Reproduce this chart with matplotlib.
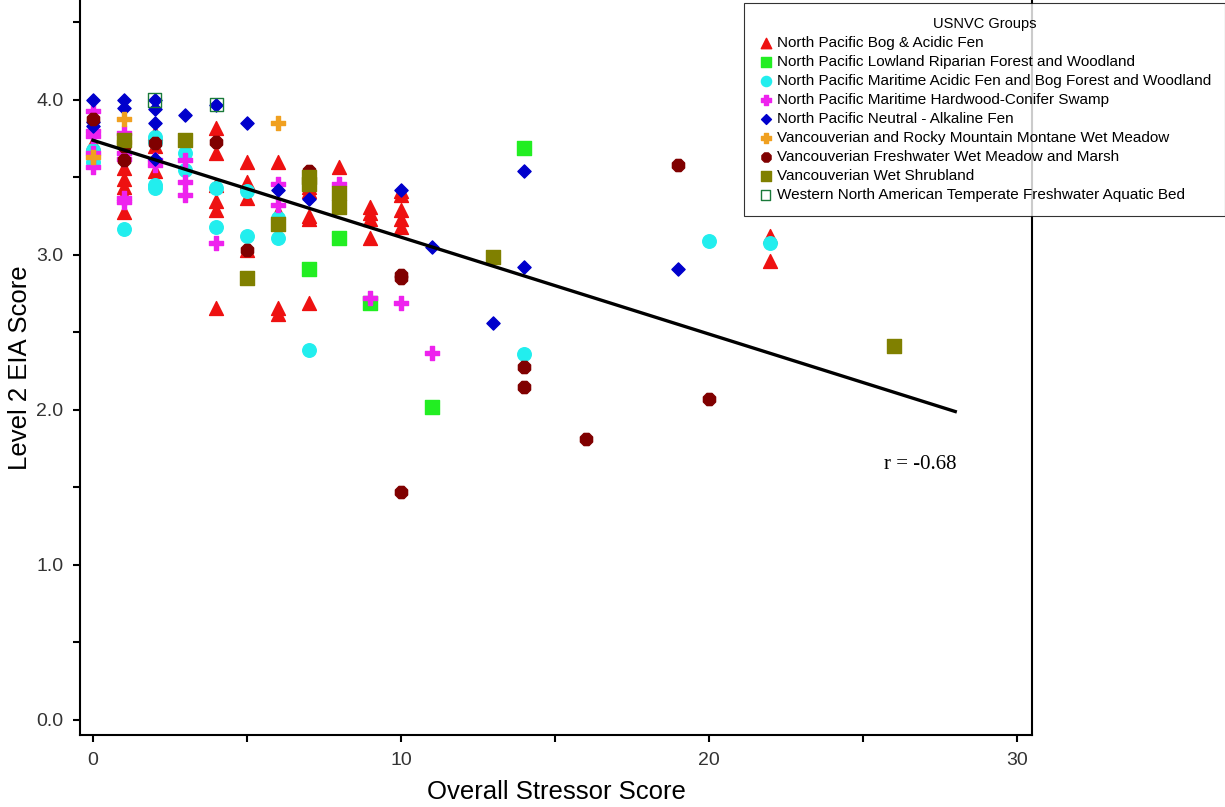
import matplotlib
matplotlib.use('Agg')
from matplotlib import pyplot as plt
from matplotlib.ticker import MultipleLocator, FormatStrFormatter

# ---- data (stressor score, EIA score) per USNVC group ----
bog_x = [0, 1, 1, 1, 1, 1, 2, 2, 2, 4, 4, 4, 4, 4, 4, 5, 5, 5, 5, 6, 6, 6, 6,
         7, 7, 7, 7, 7, 8, 9, 9, 9, 9, 10, 10, 10, 10, 10, 22, 22]
bog_y = [3.72, 3.56, 3.49, 3.44, 3.39, 3.28, 3.79, 3.70, 3.54, 3.82, 3.66, 3.45, 3.35, 3.29, 2.66,
         3.60, 3.47, 3.37, 3.03, 3.60, 3.28, 2.66, 2.62,
         3.44, 3.41, 3.25, 3.23, 2.69, 3.57, 3.31, 3.27, 3.23, 3.11,
         3.41, 3.39, 3.29, 3.23, 3.18, 3.12, 2.96]

riparian_x = [7, 8, 9, 11, 14]
riparian_y = [2.91, 3.11, 2.69, 2.02, 3.69]

acidic_x = [0, 0, 1, 2, 2, 2, 2, 3, 3, 4, 4, 5, 5, 6, 6, 7, 14, 20, 22]
acidic_y = [3.68, 3.60, 3.17, 3.76, 3.73, 3.45, 3.43, 3.66, 3.55, 3.43, 3.18,
            3.41, 3.12, 3.24, 3.11, 2.39, 2.36, 3.09, 3.08]

swamp_x = [0, 0, 0, 0, 0, 1, 1, 1, 1, 1, 2, 2, 3, 3, 3, 4, 6, 6, 8, 9, 10, 11]
swamp_y = [3.93, 3.80, 3.77, 3.66, 3.57, 3.79, 3.66, 3.62, 3.37, 3.34, 3.61, 3.58,
           3.61, 3.47, 3.39, 3.08, 3.46, 3.32, 3.46, 2.72, 2.69, 2.37]

alkaline_x = [0, 0, 0, 1, 1, 2, 2, 2, 2, 3, 4, 5, 6, 7, 10, 11, 13, 14, 14, 19]
alkaline_y = [4.00, 3.86, 3.83, 4.00, 3.95, 4.00, 3.94, 3.85, 3.62, 3.90, 3.97,
              3.85, 3.42, 3.36, 3.42, 3.05, 2.56, 3.54, 2.92, 2.91]

montane_x = [0, 1, 1, 6]
montane_y = [3.63, 3.88, 3.73, 3.85]

marsh_x = [0, 1, 1, 2, 4, 5, 7, 10, 10, 10, 14, 14, 16, 19, 20]
marsh_y = [3.88, 3.70, 3.61, 3.72, 3.73, 3.03, 3.54, 2.87, 2.85, 1.47,
           2.28, 2.15, 1.81, 3.58, 2.07]

shrub_x = [1, 3, 5, 6, 7, 7, 8, 8, 13, 26]
shrub_y = [3.74, 3.74, 2.85, 3.20, 3.50, 3.46, 3.40, 3.31, 2.99, 2.41]

aquatic_x = [2, 4]
aquatic_y = [4.00, 3.97]

# regression line
intercept = 3.74
slope = -0.0625
line_x = [0, 28]
r_text = 'r = -0.68'

plt.rcParams['font.family'] = ['Liberation Sans', 'DejaVu Sans']

fig = plt.figure(figsize=(12.25, 8.07), dpi=100)
ax = fig.add_axes([0.0653, 0.0892, 0.7771, 0.9108])

groups = [
    (bog_x, bog_y, '^', '#ee1111', '#ee1111', 100, 'North Pacific Bog & Acidic Fen'),
    (riparian_x, riparian_y, 's', '#22ee22', '#22ee22', 90, 'North Pacific Lowland Riparian Forest and Woodland'),
    (acidic_x, acidic_y, 'o', '#22eeee', '#22eeee', 95, 'North Pacific Maritime Acidic Fen and Bog Forest and Woodland'),
    (swamp_x, swamp_y, 'P', '#ee22ee', '#ee22ee', 90, 'North Pacific Maritime Hardwood-Conifer Swamp'),
    (alkaline_x, alkaline_y, 'D', '#0000cc', '#0000cc', 45, 'North Pacific Neutral - Alkaline Fen'),
    (montane_x, montane_y, 'P', '#f0a020', '#f0a020', 90, 'Vancouverian and Rocky Mountain Montane Wet Meadow'),
    (marsh_x, marsh_y, '8', '#800000', '#800000', 90, 'Vancouverian Freshwater Wet Meadow and Marsh'),
    (shrub_x, shrub_y, 's', '#808000', '#808000', 90, 'Vancouverian Wet Shrubland'),
    (aquatic_x, aquatic_y, 's', 'none', '#1a7a3a', 90, 'Western North American Temperate Freshwater Aquatic Bed'),
]

for gx, gy, m, fc, ec, s, lab in groups:
    ax.scatter(gx, gy, marker=m, s=s, facecolors=fc, edgecolors=ec,
               linewidths=1.0, label=lab, zorder=3)

ax.plot(line_x, [intercept + slope * v for v in line_x], color='black', lw=2.4, zorder=4)
ax.text(28.05, 1.65, r_text, ha='right', va='center', fontsize=15,
        family='Liberation Serif')

ax.set_xlim(-0.42, 30.49)
ax.set_ylim(-0.097, 4.645)
ax.xaxis.set_major_locator(MultipleLocator(10))
ax.xaxis.set_minor_locator(MultipleLocator(5))
ax.yaxis.set_major_locator(MultipleLocator(1))
ax.yaxis.set_minor_locator(MultipleLocator(0.5))
ax.yaxis.set_major_formatter(FormatStrFormatter('%.1f'))
ax.tick_params(which='both', direction='out', length=5, width=1.5, color='black')
ax.tick_params(which='major', labelsize=14, labelcolor='#333333', pad=7)

for side in ['left', 'bottom', 'right']:
    ax.spines[side].set_linewidth(1.5)
ax.spines['top'].set_visible(False)

ax.set_xlabel('Overall Stressor Score', fontsize=18.5, labelpad=8)
ax.set_ylabel('Level 2 EIA Score', fontsize=18.5, labelpad=3)

leg = fig.legend(loc='upper right', bbox_to_anchor=(1.0, 0.996), title='USNVC Groups',
                 fontsize=11, title_fontsize=10.5, frameon=True, fancybox=False,
                 markerscale=0.75, handletextpad=0.25, labelspacing=0.33,
                 handlelength=1.0, borderpad=0.9, borderaxespad=0)
leg.get_frame().set_edgecolor('black')
leg.get_frame().set_linewidth(0.8)

fig.savefig('out.png', dpi=100)
